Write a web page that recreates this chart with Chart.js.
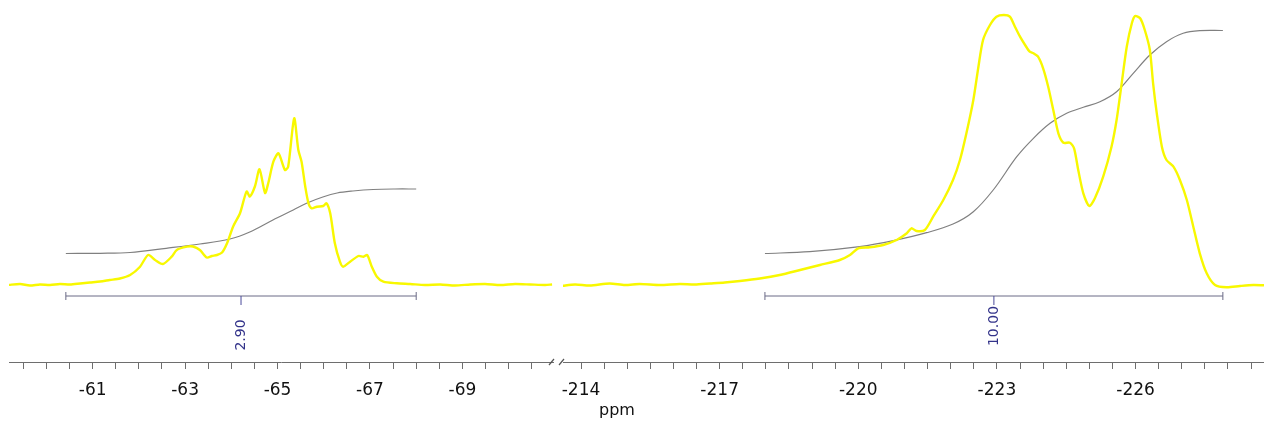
<!DOCTYPE html>
<html>
<head>
<meta charset="utf-8">
<script src="https://cdn.jsdelivr.net/npm/chart.js@4/dist/chart.umd.min.js"></script>
<style>
  html, body { margin: 0; padding: 0; background: #fff; }
  #wrap { position: relative; width: 1264px; height: 425px; }
  #wrap canvas { position: absolute; top: 0; }
</style>
</head>
<body>
<div id="wrap">
  <canvas id="left" width="558" height="425" style="left:0"></canvas>
  <canvas id="right" width="706" height="425" style="left:558px"></canvas>
</div>
<script>
// 19F spectrum, region -59 .. -71 ppm
const leftPpm = [
  -59.17, -59.43, -59.64, -59.86, -60.08, -60.29, -60.51, -60.73, -60.94, -61.16,
  -61.37, -61.59, -61.81, -62.02, -62.20, -62.35, -62.52, -62.71, -62.82, -63.04,
  -63.17, -63.32, -63.47, -63.58, -63.69, -63.80, -63.91, -64.04, -64.19, -64.33,
  -64.40, -64.51, -64.61, -64.73, -64.80, -64.91, -65.02, -65.16, -65.23, -65.36,
  -65.45, -65.52, -65.60, -65.67, -65.74, -65.85, -65.99, -66.06, -66.14, -66.24,
  -66.35, -66.42, -66.57, -66.75, -66.86, -66.94, -67.04, -67.15, -67.29, -67.58,
  -67.87, -68.19, -68.52, -68.84, -69.17, -69.49, -69.82, -70.14, -70.47, -70.79,
  -70.94,
];
const leftIntensity = [
  0, 1, -0.5, 0.5, 0, 1, 0.5, 1.5, 2.5, 3.5,
  5, 6.5, 10, 18, 30, 25, 21, 28.3, 35, 38.3,
  38.5, 35, 27.5, 29, 30, 32.5, 42, 58.5, 72, 93.5,
  88.5, 98.5, 115.7, 92, 102, 123.3, 131.7, 115, 118.3, 166.7,
  135, 123.3, 98.3, 81.7, 76.7, 78.3, 79, 81.7, 71.7, 41.7,
  23.3, 18.3, 23.3, 29, 28.3, 30, 18.3, 8.3, 3.3, 1.7,
  1, 0, 0.5, -0.5, 0.5, 1, 0, 1, 0.5, 0,
  0.5,
];
const leftIntegralPpm = [
  -60.42, -61.16, -61.81, -62.59, -63.32, -63.97, -64.40, -64.90,
  -65.34, -65.64, -65.98, -66.29, -66.63, -67.07, -67.54, -68.00,
];
const leftIntegralCurve = [
  31.5, 31.7, 32.5, 36.7, 41, 46, 53, 65,
  75, 82, 88, 92, 94, 95.5, 96, 96,
];

// region -213.6 .. -228.8 ppm
const rightPpm = [
  -213.58, -213.87, -214.19, -214.62, -214.95, -215.27, -215.71, -216.14, -216.46, -216.79,
  -217.11, -217.44, -217.87, -218.30, -218.74, -219.17, -219.60, -219.82, -220.00, -220.25,
  -220.54, -220.83, -221.05, -221.15, -221.26, -221.44, -221.62, -221.84, -222.05, -222.20,
  -222.34, -222.49, -222.60, -222.70, -222.85, -222.99, -223.15, -223.28, -223.39, -223.50,
  -223.61, -223.71, -223.79, -223.89, -224.00, -224.11, -224.22, -224.33, -224.44, -224.58,
  -224.67, -224.76, -224.87, -225.00, -225.12, -225.30, -225.48, -225.59, -225.70, -225.81,
  -225.92, -225.99, -226.10, -226.20, -226.31, -226.38, -226.46, -226.57, -226.67, -226.82,
  -226.96, -227.11, -227.25, -227.39, -227.54, -227.72, -227.97, -228.26, -228.55, -228.78,
];
const rightIntensity = [
  -1, 0.5, -0.5, 1.5, 0, 1, 0, 1, 0.5, 1.5,
  2.5, 4, 6.5, 10, 15, 20, 25, 30, 36.7, 37.7,
  40, 45, 51.7, 56.7, 54, 55, 68.3, 85, 105, 125,
  151.7, 185, 218.3, 245, 260, 268.3, 270, 268.3, 258.3, 248.3,
  240, 233.3, 231.7, 228.3, 216.7, 198.3, 175, 151.7, 142.3, 142.3,
  136.7, 115, 91.7, 79, 86.7, 108.3, 138.3, 165, 201.7, 238.3,
  261.7, 269, 266.7, 255, 235, 201.7, 171.7, 138.3, 125, 118.3,
  105, 85, 58.3, 31.7, 11.7, 0, -2.3, -1, 0, -0.3,
];
const rightIntegralPpm = [
  -217.98, -218.95, -220.03, -220.76, -221.48, -222.05, -222.49, -222.92, -223.43,
  -223.79, -224.15, -224.51, -224.87, -225.23, -225.59, -225.95, -226.31, -226.67, -227.03,
  -227.39, -227.89,
];
const rightIntegralCurve = [
  31.5, 33.3, 38.3, 44.3, 52.3, 61, 73.3, 95, 128.3,
  146.7, 161.7, 171.7, 177.7, 183.3, 193.3, 211.7, 230, 243.3, 251.7,
  254.3, 254.5,
];

// integral regions: [from, to] ppm and the normalised value
const leftRegion = [-60.42, -68.00];
const leftRegionValue = '2.90';
const rightRegion = [-217.98, -227.89];
const rightRegionValue = '10.00';

// axis ranges and labelled ticks
const leftRange = [-70.96, -59.19];
const rightRange = [-228.78, -213.61];
const leftTickLabels = [-61, -63, -65, -67, -69];
const rightTickLabels = [-214, -217, -220, -223, -226];
const minorStep = 0.5;

const AXIS_GREY = '#6e6e6e';
const FONT = '"DejaVu Sans", sans-serif';

function minorTicks(range) {
  const out = [];
  const start = Math.floor(range[1] / minorStep) * minorStep;
  for (let v = start; v >= range[0]; v -= minorStep) out.push(v);
  return out;
}

function toPoints(xs, ys) {
  return xs.map((x, i) => ({ x, y: ys[i] }));
}

// bracket under an integrated region, with its value written sideways
const integralBar = {
  id: 'integralBar',
  afterDatasetsDraw(chart, args, opts) {
    const { ctx } = chart;
    const xs = chart.scales.x;
    const y0 = chart.scales.y.getPixelForValue(0) + 11;
    const x1 = xs.getPixelForValue(opts.region[0]);
    const x2 = xs.getPixelForValue(opts.region[1]);
    const mid = (x1 + x2) / 2;
    ctx.save();
    ctx.strokeStyle = '#6a6a86';
    ctx.lineWidth = 1;
    ctx.beginPath();
    ctx.moveTo(x1, y0); ctx.lineTo(x2, y0);
    ctx.moveTo(x1, y0 - 4); ctx.lineTo(x1, y0 + 4);
    ctx.moveTo(x2, y0 - 4); ctx.lineTo(x2, y0 + 4);
    ctx.stroke();
    ctx.strokeStyle = '#4a4a9a';
    ctx.beginPath();
    ctx.moveTo(mid, y0); ctx.lineTo(mid, y0 + 9);
    ctx.stroke();
    ctx.translate(mid, opts.labelY);
    ctx.rotate(-Math.PI / 2);
    ctx.fillStyle = '#33338a';
    ctx.font = '14px ' + FONT;
    ctx.textAlign = 'center';
    ctx.textBaseline = 'middle';
    ctx.fillText(opts.label, 0, 0);
    ctx.restore();
  },
};

// the two slashes where the ppm axis is cut
const axisBreak = {
  id: 'axisBreak',
  afterDraw(chart, args, opts) {
    const { ctx, chartArea } = chart;
    const x = opts.side === 'right' ? chartArea.right - 1 : chartArea.left - 1;
    const y = chartArea.bottom;
    ctx.save();
    ctx.strokeStyle = '#555';
    ctx.lineWidth = 1.2;
    ctx.beginPath();
    ctx.moveTo(x - 3, y + 3);
    ctx.lineTo(x + 2, y - 3);
    ctx.stroke();
    if (opts.title) {
      ctx.fillStyle = '#111';
      ctx.font = '16px ' + FONT;
      ctx.textAlign = 'center';
      ctx.textBaseline = 'middle';
      ctx.fillText(opts.title, opts.titleX, 411);
    }
    ctx.restore();
  },
};

function buildChart(canvas, cfg) {
  const ticks = minorTicks(cfg.range);
  return new Chart(canvas, {
    type: 'line',
    data: {
      datasets: [
        {
          data: toPoints(cfg.ppm, cfg.intensity),
          borderColor: '#f8f800',
          borderWidth: 2.4,
          pointRadius: 0,
          tension: 0.25,
        },
        {
          data: toPoints(cfg.integralPpm, cfg.integral),
          borderColor: '#808080',
          borderWidth: 1.2,
          pointRadius: 0,
          tension: 0.35,
        },
      ],
    },
    options: {
      responsive: false,
      animation: false,
      layout: { padding: cfg.padding },
      plugins: {
        legend: { display: false },
        tooltip: { enabled: false },
        integralBar: cfg.bar,
        axisBreak: cfg.cut,
      },
      scales: {
        x: {
          type: 'linear',
          reverse: true,
          min: cfg.range[0],
          max: cfg.range[1],
          afterBuildTicks: (scale) => { scale.ticks = ticks.map((value) => ({ value })); },
          afterFit: (scale) => {
            // labels may overhang the plot edges; keep the plot width fixed
            scale.height = 63;
            scale.paddingLeft = 0;
            scale.paddingRight = 0;
          },
          grid: { drawOnChartArea: false, drawTicks: true, tickLength: 7, color: AXIS_GREY },
          border: { display: true, color: AXIS_GREY, width: 1 },
          ticks: {
            autoSkip: false,
            maxRotation: 0,
            padding: 11,
            color: '#111',
            font: { family: FONT, size: 17 },
            callback: (v) => (cfg.labels.includes(v) ? String(v) : ''),
          },
        },
        y: { display: false, min: -77, max: 285 },
      },
    },
    plugins: [integralBar, axisBreak],
  });
}

buildChart(document.getElementById('left'), {
  range: leftRange,
  labels: leftTickLabels,
  ppm: leftPpm,
  intensity: leftIntensity,
  integralPpm: leftIntegralPpm,
  integral: leftIntegralCurve,
  padding: { left: 9, right: 5, top: 0, bottom: 0 },
  bar: { region: leftRegion, label: leftRegionValue, labelY: 335 },
  cut: { side: 'right' },
});

buildChart(document.getElementById('right'), {
  range: rightRange,
  labels: rightTickLabels,
  ppm: rightPpm,
  intensity: rightIntensity,
  integralPpm: rightIntegralPpm,
  integral: rightIntegralCurve,
  padding: { left: 5, right: 0, top: 0, bottom: 0 },
  bar: { region: rightRegion, label: rightRegionValue, labelY: 326 },
  cut: { side: 'left', title: 'ppm', titleX: 59 },
});
</script>
</body>
</html>
